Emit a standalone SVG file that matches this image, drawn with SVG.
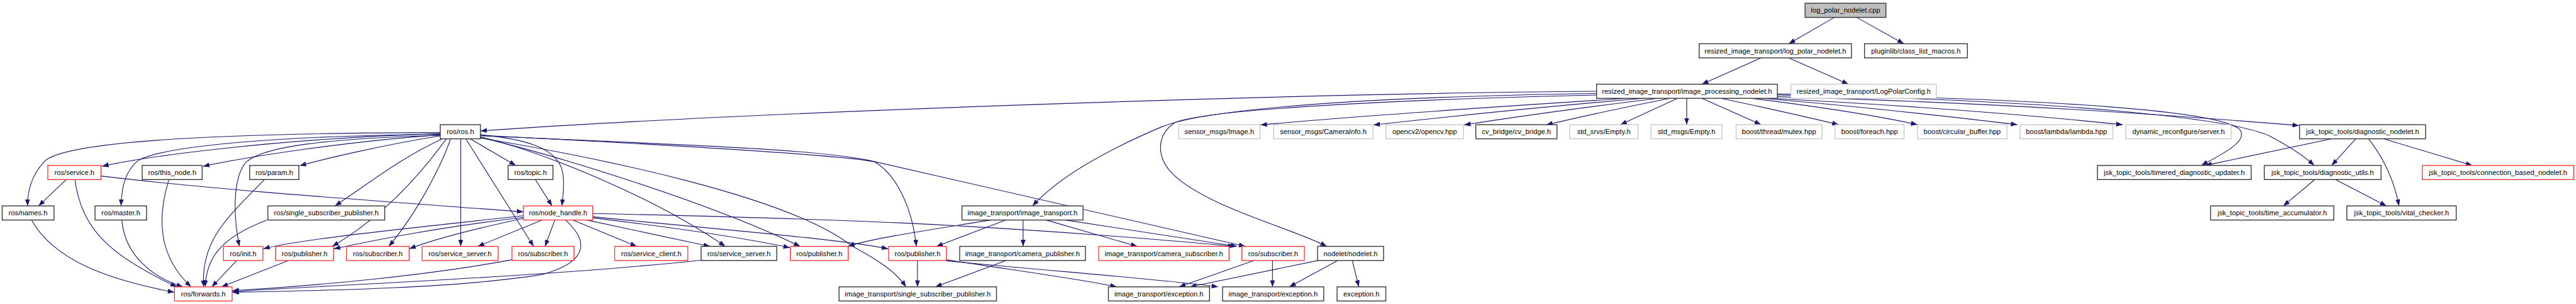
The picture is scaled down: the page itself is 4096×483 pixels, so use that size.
<svg xmlns="http://www.w3.org/2000/svg" width="4096" height="483" viewBox="0 0 4096 483">
<style>
.node rect{fill:#fff;stroke:#333;stroke-width:1.6}
.node.red rect{stroke:#ff2a2a;stroke-width:1.5}
.node.gray rect{stroke:#c4c4c4;stroke-width:1.5}
.node.root rect{fill:#bfbfbf;stroke:#333}
.node text{font-family:"Liberation Sans",Arial,sans-serif;font-size:13px;text-anchor:middle;fill:#000}
.edges path{fill:none;stroke:#191970;stroke-width:1.3;marker-end:url(#ah)}
</style>
<defs>
<marker id="ah" viewBox="0 0 12 9" refX="12" refY="4.5" markerWidth="12" markerHeight="9" orient="auto" markerUnits="userSpaceOnUse">
<path d="M0,0 L12,4.5 L0,9 z" fill="#191970"/>
</marker>
</defs>
<rect width="4096" height="483" fill="#fff"/>
<g transform="scale(0.8632)">
<g class="edges">
<path d="M3379,32 L3295,80.5"/>
<path d="M3420,32 L3507,80.5"/>
<path d="M3244,106.5 L3135,155"/>
<path d="M3295,106.5 L3405,155"/>
<path d="M2941,168 C2400,172 1400,205 885,241"/>
<path d="M2998,181 C2700,200 2450,218 2322,230"/>
<path d="M3028,181 C2800,200 2620,220 2530,230"/>
<path d="M3054,181 C2900,200 2760,220 2697,230"/>
<path d="M3076,181 C2980,200 2890,220 2848,230"/>
<path d="M3090,181 L2985,229.5"/>
<path d="M3107,181 L3107,229.5"/>
<path d="M3135,181 L3244,229.5"/>
<path d="M3170,181 C3260,200 3340,218 3387,229.5"/>
<path d="M3226,181 C3380,200 3480,218 3532,229.5"/>
<path d="M3247,181 C3450,198 3620,218 3716,229.5"/>
<path d="M3262,181 C3550,196 3780,216 3910,229.5"/>
<path d="M3274,178 C3700,190 4000,212 4235,231"/>
<path d="M3274,173 C3800,182 4100,205 4127,240 C4140,262 4090,285 4055,304.5"/>
<path d="M3274,175 C3800,184 4110,218 4180,250 C4222,272 4247,290 4263,304.5"/>
<path d="M2941,172 C2400,180 2200,210 2141,233 C2070,263 1960,315 1902,379"/>
<path d="M2941,175 C2500,185 2200,205 2162,227 C2130,250 2130,290 2160,320 C2220,380 2380,420 2444,453.5"/>
<path d="M811,244 C400,245 120,260 82,297 C60,320 50,350 51,379"/>
<path d="M811,246 C500,255 260,290 188,306"/>
<path d="M811,247 C500,250 300,270 255,295 C230,315 224,345 223,379"/>
<path d="M811,248 C620,262 450,290 374,306"/>
<path d="M811,249 C600,255 480,270 452,300 C428,330 430,400 441,453.5"/>
<path d="M811,250 C700,268 600,292 552,305"/>
<path d="M815,255.5 C740,290 690,330 617,379"/>
<path d="M822,255.5 C790,300 720,390 612,453.5"/>
<path d="M830,255.5 C815,300 770,390 716,453.5"/>
<path d="M848.7,255.5 L848.7,453.5"/>
<path d="M858,255.5 L983,453.5"/>
<path d="M866,255.5 L950,304.5"/>
<path d="M885,248 C960,255 1030,270 1037,320 C1040,345 1037,360 1035,379"/>
<path d="M885,252 C1000,280 1200,360 1336,453.5"/>
<path d="M885,253 C1020,285 1300,370 1474,453.5"/>
<path d="M885,254 C1100,290 1450,360 1568,452 C1620,480 1650,500 1669,528"/>
<path d="M885,249 C1200,265 1550,285 1611,298 C1650,320 1680,380 1688,453.5"/>
<path d="M885,250 C1300,268 1500,275 1600,295 L2294,453.5"/>
<path d="M122,330.5 L71,379"/>
<path d="M138,330.5 C150,420 200,470 326,528"/>
<path d="M186,324 C400,350 700,370 964,390"/>
<path d="M58,405 C100,480 200,515 321,538"/>
<path d="M224.5,405 C230,470 280,510 337,528"/>
<path d="M311,330.5 C290,400 290,470 352,528"/>
<path d="M487,330.5 C420,400 370,440 375,528"/>
<path d="M492,405 C400,440 380,480 378,528"/>
<path d="M436,479.5 L390,528"/>
<path d="M531,479.5 L408,528"/>
<path d="M986,330.5 L1017,379"/>
<path d="M964,397 C800,415 550,440 485,458"/>
<path d="M964,400 C800,420 700,440 615,458"/>
<path d="M964,402 C880,420 800,440 754,458"/>
<path d="M999,405 L880,453.5"/>
<path d="M1022,405 L1004,453.5"/>
<path d="M1055,405 L1173,453.5"/>
<path d="M1081,405 L1308,453.5"/>
<path d="M1092,401 C1250,420 1380,440 1455,456"/>
<path d="M1092,399 C1300,420 1550,440 1636,458"/>
<path d="M1092,393 C1500,402 1800,410 2274,453.5"/>
<path d="M1042,405 C1080,440 1090,480 1000,505 C850,530 600,535 428,538"/>
<path d="M943,478 C800,505 600,525 428,535"/>
<path d="M1291,479 C1000,510 600,525 428,537"/>
<path d="M1825,405 C1700,425 1600,440 1562,453.5"/>
<path d="M1853,405 L1725,453.5"/>
<path d="M1884.6,405 L1884.6,453.5"/>
<path d="M1927,405 L2095,453.5"/>
<path d="M1962.7,405 L2279,453.5"/>
<path d="M1690,479.5 L1690,528"/>
<path d="M1743,478 C1850,495 2000,515 2057,528"/>
<path d="M1743,480 C1950,500 2150,515 2244,528"/>
<path d="M1853,479.5 L1723,528"/>
<path d="M2309.6,479.5 L2172,528"/>
<path d="M2344,479.5 L2344,528"/>
<path d="M2428,479.5 L2192,528"/>
<path d="M2464,479.5 L2375,528"/>
<path d="M2491,479.5 L2503,528"/>
<path d="M4295,255.5 L4062,304.5"/>
<path d="M4339.5,255.5 L4295,304.5"/>
<path d="M4363,255.5 C4390,290 4410,330 4419,379"/>
<path d="M4391,255.5 L4554,304.5"/>
<path d="M4264,330.5 L4206,379"/>
<path d="M4302,330.5 L4396,379"/>
</g>
<g id="n_cpp" class="node root"><rect x="3325" y="6" width="149" height="26"/><text x="3399.5" y="23.5">log_polar_nodelet.cpp</text></g>
<g id="n_lpn" class="node"><rect x="3130" y="80.5" width="280.5" height="26"/><text x="3270.25" y="98">resized_image_transport/log_polar_nodelet.h</text></g>
<g id="n_plug" class="node"><rect x="3434.5" y="80.5" width="189.5" height="26"/><text x="3529.25" y="98">pluginlib/class_list_macros.h</text></g>
<g id="n_ipn" class="node"><rect x="2941" y="155" width="333" height="26"/><text x="3107.5" y="172.5">resized_image_transport/image_processing_nodelet.h</text></g>
<g id="n_cfg" class="node gray"><rect x="3299" y="155" width="268" height="26"/><text x="3433" y="172.5">resized_image_transport/LogPolarConfig.h</text></g>
<g id="n_ros" class="node"><rect x="811" y="229.5" width="74" height="26"/><text x="848" y="247">ros/ros.h</text></g>
<g id="n_img" class="node gray"><rect x="2171" y="229.5" width="150" height="26"/><text x="2246" y="247">sensor_msgs/Image.h</text></g>
<g id="n_caminfo" class="node gray"><rect x="2346" y="229.5" width="183" height="26"/><text x="2437.5" y="247">sensor_msgs/CameraInfo.h</text></g>
<g id="n_opencv" class="node gray"><rect x="2553" y="229.5" width="142.5" height="26"/><text x="2624.25" y="247">opencv2/opencv.hpp</text></g>
<g id="n_cvb" class="node"><rect x="2718.5" y="229.5" width="149.5" height="26"/><text x="2793.25" y="247">cv_bridge/cv_bridge.h</text></g>
<g id="n_stdsrvs" class="node gray"><rect x="2891.4" y="229.5" width="126" height="26"/><text x="2954.4" y="247">std_srvs/Empty.h</text></g>
<g id="n_stdmsgs" class="node gray"><rect x="3041.4" y="229.5" width="130.6" height="26"/><text x="3106.7" y="247">std_msgs/Empty.h</text></g>
<g id="n_mutex" class="node gray"><rect x="3198" y="229.5" width="158" height="26"/><text x="3277" y="247">boost/thread/mutex.hpp</text></g>
<g id="n_foreach" class="node gray"><rect x="3380.4" y="229.5" width="127" height="26"/><text x="3443.9" y="247">boost/foreach.hpp</text></g>
<g id="n_circ" class="node gray"><rect x="3532" y="229.5" width="165" height="26"/><text x="3614.5" y="247">boost/circular_buffer.hpp</text></g>
<g id="n_lambda" class="node gray"><rect x="3721" y="229.5" width="171" height="26"/><text x="3806.5" y="247">boost/lambda/lambda.hpp</text></g>
<g id="n_dyn" class="node gray"><rect x="3916" y="229.5" width="194" height="26"/><text x="4013" y="247">dynamic_reconfigure/server.h</text></g>
<g id="n_diagn" class="node"><rect x="4236" y="229.5" width="232" height="26"/><text x="4352" y="247">jsk_topic_tools/diagnostic_nodelet.h</text></g>
<g id="n_service" class="node red"><rect x="88" y="304.5" width="98" height="26"/><text x="137" y="322">ros/service.h</text></g>
<g id="n_thisnode" class="node"><rect x="262" y="304.5" width="110.4" height="26"/><text x="317.2" y="322">ros/this_node.h</text></g>
<g id="n_param" class="node"><rect x="460" y="304.5" width="90.5" height="26"/><text x="505.25" y="322">ros/param.h</text></g>
<g id="n_topic" class="node"><rect x="936" y="304.5" width="82.6" height="26"/><text x="977.3" y="322">ros/topic.h</text></g>
<g id="n_timered" class="node"><rect x="3863.6" y="304.5" width="283.2" height="26"/><text x="4005.2" y="322">jsk_topic_tools/timered_diagnostic_updater.h</text></g>
<g id="n_dutils" class="node"><rect x="4171" y="304.5" width="215" height="26"/><text x="4278.5" y="322">jsk_topic_tools/diagnostic_utils.h</text></g>
<g id="n_conn" class="node red"><rect x="4462" y="304.5" width="279" height="26"/><text x="4601.5" y="322">jsk_topic_tools/connection_based_nodelet.h</text></g>
<g id="n_names" class="node"><rect x="4" y="379" width="95.5" height="26"/><text x="51.75" y="396.5">ros/names.h</text></g>
<g id="n_master" class="node"><rect x="175" y="379" width="95" height="26"/><text x="222.5" y="396.5">ros/master.h</text></g>
<g id="n_ssp" class="node"><rect x="493.4" y="379" width="215.3" height="26"/><text x="601.05" y="396.5">ros/single_subscriber_publisher.h</text></g>
<g id="n_nh" class="node red"><rect x="964" y="379" width="128" height="26"/><text x="1028" y="396.5">ros/node_handle.h</text></g>
<g id="n_it" class="node"><rect x="1772" y="379" width="223" height="26"/><text x="1883.5" y="396.5">image_transport/image_transport.h</text></g>
<g id="n_tacc" class="node"><rect x="4072" y="379" width="227" height="26"/><text x="4185.5" y="396.5">jsk_topic_tools/time_accumulator.h</text></g>
<g id="n_vital" class="node"><rect x="4323" y="379" width="201.5" height="26"/><text x="4423.75" y="396.5">jsk_topic_tools/vital_checker.h</text></g>
<g id="n_init" class="node red"><rect x="411.7" y="453.5" width="72.5" height="26"/><text x="447.95" y="471">ros/init.h</text></g>
<g id="n_pub1" class="node red"><rect x="507.7" y="453.5" width="106.6" height="26"/><text x="561" y="471">ros/publisher.h</text></g>
<g id="n_sub1" class="node red"><rect x="638.3" y="453.5" width="115.3" height="26"/><text x="695.95" y="471">ros/subscriber.h</text></g>
<g id="n_ss1" class="node red"><rect x="777.6" y="453.5" width="140" height="26"/><text x="847.6" y="471">ros/service_server.h</text></g>
<g id="n_sub2" class="node red"><rect x="943" y="453.5" width="114.3" height="26"/><text x="1000.15" y="471">ros/subscriber.h</text></g>
<g id="n_sc" class="node red"><rect x="1132.3" y="453.5" width="134.7" height="26"/><text x="1199.65" y="471">ros/service_client.h</text></g>
<g id="n_ss2" class="node"><rect x="1291.5" y="453.5" width="139.3" height="26"/><text x="1361.15" y="471">ros/service_server.h</text></g>
<g id="n_pub2" class="node red"><rect x="1455.8" y="453.5" width="106.6" height="26"/><text x="1509.1" y="471">ros/publisher.h</text></g>
<g id="n_pub3" class="node red"><rect x="1637" y="453.5" width="106.3" height="26"/><text x="1690.15" y="471">ros/publisher.h</text></g>
<g id="n_campub" class="node"><rect x="1767.8" y="453.5" width="231.6" height="26"/><text x="1883.6" y="471">image_transport/camera_publisher.h</text></g>
<g id="n_camsub" class="node red"><rect x="2024" y="453.5" width="240" height="26"/><text x="2144" y="471">image_transport/camera_subscriber.h</text></g>
<g id="n_sub3" class="node red"><rect x="2287.6" y="453.5" width="115.1" height="26"/><text x="2345.15" y="471">ros/subscriber.h</text></g>
<g id="n_nodelet" class="node"><rect x="2427" y="453.5" width="121.6" height="26"/><text x="2487.8" y="471">nodelet/nodelet.h</text></g>
<g id="n_fwd" class="node red"><rect x="321.4" y="528" width="106.2" height="26"/><text x="374.5" y="545.5">ros/forwards.h</text></g>
<g id="n_itssp" class="node"><rect x="1545.6" y="528" width="290" height="26"/><text x="1690.6" y="545.5">image_transport/single_subscriber_publisher.h</text></g>
<g id="n_exc1" class="node"><rect x="2041.7" y="528" width="186.3" height="26"/><text x="2134.85" y="545.5">image_transport/exception.h</text></g>
<g id="n_exc2" class="node"><rect x="2252" y="528" width="186.4" height="26"/><text x="2345.2" y="545.5">image_transport/exception.h</text></g>
<g id="n_exc" class="node"><rect x="2463" y="528" width="89.7" height="26"/><text x="2507.85" y="545.5">exception.h</text></g>
</g>
</svg>
